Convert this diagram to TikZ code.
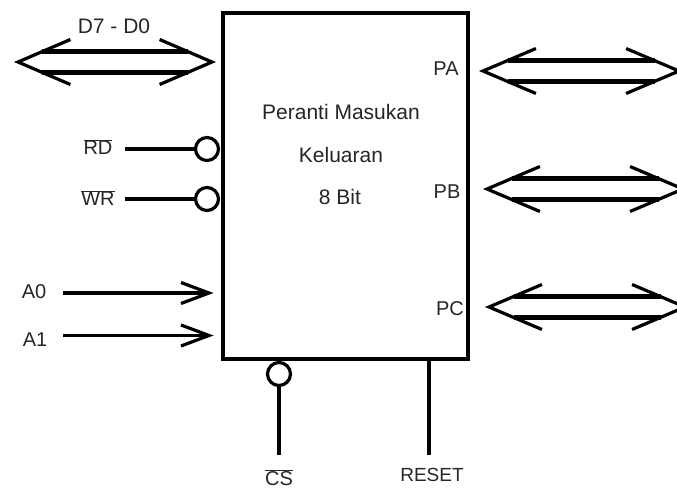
\documentclass[tikz,border=0pt]{standalone}
\usepackage{fontspec}
\setmainfont{Liberation Sans}
\usetikzlibrary{calc}
\newcommand{\barlabel}[1]{$\overline{\mbox{#1}}$}
\tikzset{
  x=1pt,y=-1pt,
  lbl/.style={inner sep=0pt,font=\fontsize{20}{22}\selectfont,text=black!85},
  big/.style={inner sep=0pt,font=\fontsize{21}{23}\selectfont,text=black!85},
  wire/.style={draw=black,line width=3.4pt},
  barb/.style={draw=black,line width=3.2pt,line join=miter},
  bubble/.style={circle,draw=black,line width=3.2pt,fill=white,minimum size=23pt,inner sep=0pt},
  chip/.style={draw=black,line width=3.6pt,fill=white,minimum width=245pt,minimum height=346pt,inner sep=0pt},
  pics/bus/.style={code={
    \draw[line width=5pt] (#1*0.125,-10.5) -- (#1*0.875,-10.5);
    \draw[line width=5pt] (#1*0.125,10.5) -- (#1*0.875,10.5);
    \draw[barb] (#1*0.27,-22.5) -- (0,0) -- (#1*0.27,22.5);
    \draw[barb] (#1*0.73,-22.5) -- (#1,0) -- (#1*0.73,22.5);
  }},
}
\begin{document}
\begin{tikzpicture}
\clip (0,0) rectangle (677,490);
\fill[white] (0,0) rectangle (677,490);
\node[chip] (box) at (345.5,186) {};
\node[big] (title1) at (341,112) {Peranti Masukan};
\node[big] (title2) at (341,155) {Keluaran};
\node[big] (title3) at (340,197) {8 Bit};
\node[lbl] (pa) at (446,69) {PA};
\node[lbl] (pb) at (447,192) {PB};
\node[lbl] (pc) at (450,309) {PC};
\node[big] (d) at (114,26) {D7 - D0};
\pic at (18,62) {bus=194};
\pic at (483,71) {bus=196};
\pic at (487,189) {bus=196};
\pic at (489,307) {bus=196};
\node[lbl] (rd) at (98,147) {\barlabel{RD}};
\node[lbl] (wr) at (98,198) {\barlabel{WR}};
\node[bubble] (brd) at (207,149) {};
\node[bubble] (bwr) at (207,199) {};
\coordinate (rdw) at (125,149);
\coordinate (wrw) at (125,199);
\draw[wire] (rdw) -- (brd);
\draw[wire] (wrw) -- (bwr);
\node[lbl] (a0) at (34,292) {A0};
\node[lbl] (a1) at (35,340) {A1};
\coordinate (a0s) at (63,293);
\coordinate (a0e) at (209,293);
\coordinate (a1s) at (63,335.5);
\coordinate (a1e) at (209,335.5);
\draw[wire] (a0s) -- (a0e);
\draw[wire] (a1s) -- (a1e);
\draw[barb] ($(a0e)+(-28,-10.5)$) -- (a0e) -- ($(a0e)+(-28,10.5)$);
\draw[barb] ($(a1e)+(-28,-10.5)$) -- (a1e) -- ($(a1e)+(-28,10.5)$);
\node[bubble] (bcs) at (279,374) {};
\coordinate (csw) at (279,455);
\draw[wire] (bcs) -- (csw);
\node[lbl] (cs) at (279,478) {\barlabel{CS}};
\coordinate (rst) at (429,359);
\coordinate (rstw) at (429,455);
\draw[wire] (rst) -- (rstw);
\node[inner sep=0pt,font=\fontsize{19}{20}\selectfont,text=black!85] (reset) at (432,475) {RESET};
\end{tikzpicture}
\end{document}
